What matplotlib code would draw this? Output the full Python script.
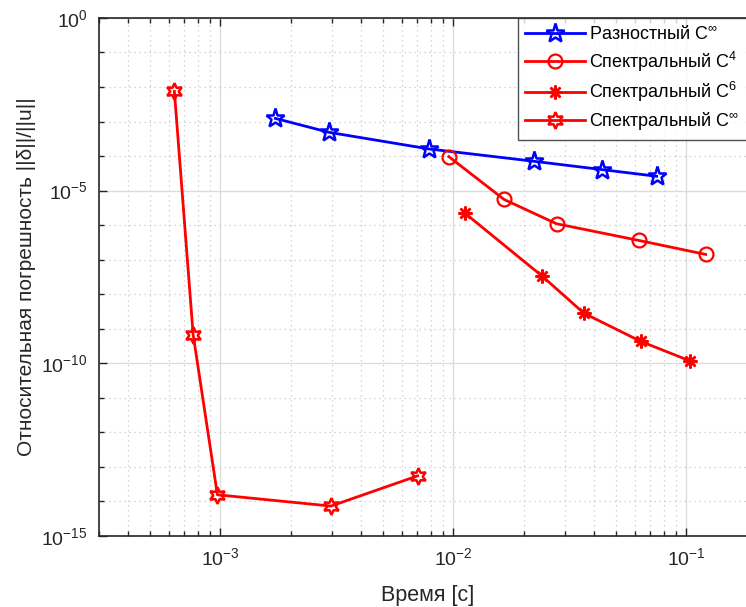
import matplotlib
matplotlib.use('Agg')
import matplotlib.pyplot as plt
from matplotlib.ticker import LogLocator, NullFormatter

plt.rcParams['font.family'] = ['Liberation Sans', 'DejaVu Sans']
plt.rcParams['mathtext.fontset'] = 'custom'
plt.rcParams['mathtext.rm'] = 'Liberation Sans'
plt.rcParams['mathtext.it'] = 'Liberation Sans'
plt.rcParams['mathtext.bf'] = 'Liberation Sans'

# data
t_fd_inf = [1.72e-3, 2.93e-3, 7.87e-3, 0.0222, 0.0433, 0.0745]
e_fd_inf = [1.23e-3, 4.84e-4, 1.60e-4, 7.03e-5, 4.05e-5, 2.59e-5]

t_sp_c4 = [9.55e-3, 0.0165, 0.0277, 0.0624, 0.121]
e_sp_c4 = [9.62e-5, 5.5e-6, 1.09e-6, 3.59e-7, 1.41e-7]

t_sp_c6 = [0.0112, 0.0241, 0.0363, 0.0638, 0.1035]
e_sp_c6 = [2.21e-6, 3.26e-8, 2.79e-9, 4.24e-10, 1.16e-10]

t_sp_inf = [6.34e-4, 7.63e-4, 9.7e-4, 2.98e-3, 7.02e-3]
e_sp_inf = [7.41e-3, 6.74e-10, 1.53e-14, 7.21e-15, 5.42e-14]

labels = [r'Разностный C$^{\infty}$', r'Спектральный C$^{4}$',
          r'Спектральный C$^{6}$', r'Спектральный C$^{\infty}$']

fig = plt.figure(figsize=(7.46, 6.07), dpi=100)
ax = fig.add_axes([0.1323, 0.1175, 0.8818, 0.8529])

lw = 2.0
ax.loglog(t_fd_inf, e_fd_inf, '-', color='blue', lw=lw, marker='*',
          ms=14, mfc='none', mew=1.8, label=labels[0])
ax.loglog(t_sp_c4, e_sp_c4, '-', color='red', lw=lw, marker='o',
          ms=10, mfc='none', mew=1.6, label=labels[1])
ax.loglog(t_sp_c6, e_sp_c6, '-', color='red', lw=lw, marker=(8, 2, 0),
          ms=10, mfc='none', mew=1.8, label=labels[2])
ax.loglog(t_sp_inf, e_sp_inf, '-', color='red', lw=lw, marker=(6, 1, 0),
          ms=12, mfc='none', mew=1.8, label=labels[3])

ax.set_xlim(3e-4, 0.2)
ax.set_ylim(1e-15, 1e0)

ax.xaxis.set_major_locator(LogLocator(base=10, numticks=20))
ax.xaxis.set_minor_locator(LogLocator(base=10, subs=range(2, 10), numticks=20))
ax.xaxis.set_minor_formatter(NullFormatter())
ax.set_yticks([1e-15, 1e-10, 1e-5, 1e0])
ax.yaxis.set_minor_locator(LogLocator(base=10, subs=(1.0,), numticks=30))
ax.yaxis.set_minor_formatter(NullFormatter())

ax.grid(True, which='major', color='#dcdcdc', lw=1.0, ls='-')
ax.grid(True, which='minor', color='#c8c8c8', lw=0.9, ls=(0, (1, 3)))
ax.set_axisbelow(True)

ax.tick_params(which='both', direction='in', top=True, right=True,
               colors='#262626', labelcolor='#262626', labelsize=14)
ax.tick_params(axis='x', which='major', pad=8)
ax.tick_params(axis='y', which='major', pad=8)
ax.tick_params(which='major', length=6, width=1.0)
ax.tick_params(which='minor', length=3.5, width=1.0)
for sp in ax.spines.values():
    sp.set_color('#262626')
    sp.set_linewidth(1.2)

ax.set_xlabel('Время [с]', fontsize=15.5, color='#262626', labelpad=12)
ax.set_ylabel('Относительная погрешность ||δ||/||u||', fontsize=15,
              color='#262626', labelpad=4)

leg = ax.legend(loc='upper left', bbox_to_anchor=(0.6375, 1.0), fontsize=13,
                frameon=True, fancybox=False, edgecolor='#262626',
                borderaxespad=0, handlelength=3.3, labelspacing=0.35,
                borderpad=0.4, handletextpad=0.25)
leg.get_frame().set_linewidth(1.0)

fig.savefig('out.png', dpi=100)
